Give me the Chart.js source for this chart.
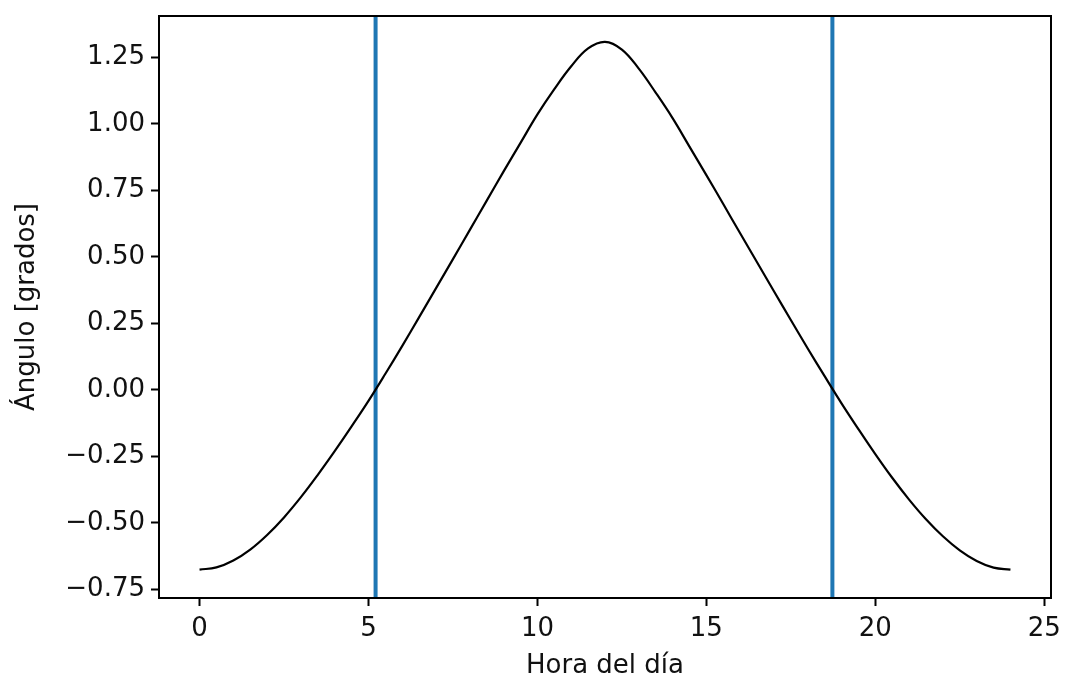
<!DOCTYPE html>
<html>
<head>
<meta charset="utf-8">
<script src="https://cdn.jsdelivr.net/npm/chart.js@4.4.1/dist/chart.umd.min.js"></script>
<style>
    body { margin: 0; background: #fff; }
    #wrap { width: 1065px; height: 682px; position: relative; }
</style>
</head>
<body>
<div id="wrap"><canvas id="chart"></canvas></div>
<script>
// hour of day (half-hour steps) and sun angle
const hours = [0, 0.5, 1, 1.5, 2, 2.5, 3, 3.5, 4, 4.5, 5, 5.5, 6, 6.5, 7, 7.5, 8, 8.5, 9, 9.5, 10, 10.5, 11, 11.5,
               12, 12.5, 13, 13.5, 14, 14.5, 15, 15.5, 16, 16.5, 17, 17.5, 18, 18.5, 19, 19.5, 20, 20.5, 21, 21.5,
               22, 22.5, 23, 23.5, 24];
const angle = [-0.675, -0.667, -0.641, -0.600, -0.545, -0.479, -0.403, -0.319, -0.230, -0.137, -0.041, 0.061,
               0.166, 0.274, 0.383, 0.492, 0.602, 0.712, 0.822, 0.929, 1.036, 1.131, 1.217, 1.284,
               1.309, 1.280, 1.208, 1.118, 1.022, 0.915, 0.808, 0.699, 0.589, 0.480, 0.371, 0.263,
               0.156, 0.052, -0.050, -0.147, -0.241, -0.330, -0.412, -0.486, -0.550, -0.603, -0.643, -0.668, -0.675];
// sunrise / sunset markers
const sunHours = [5.21, 18.73];

const xTicks = [0, 5, 10, 15, 20, 25];
const yTicks = [-0.75, -0.5, -0.25, 0, 0.25, 0.5, 0.75, 1.0, 1.25];
const xLimits = [-1.2, 25.2];
const yLimits = [-0.782, 1.406];

const FONT = { family: 'DejaVu Sans', size: 26 };

const curve = {
    label: 'ángulo',
    data: hours.map((h, i) => ({ x: h, y: angle[i] })),
    borderColor: '#000',
    borderWidth: 2.2,
    pointRadius: 0,
    tension: 0.4,
    order: 0,
};

const markers = sunHours.map(h => ({
    label: 'h' + h,
    data: [{ x: h, y: yLimits[0] }, { x: h, y: yLimits[1] }],
    borderColor: '#1f77b4',
    borderWidth: 4,
    pointRadius: 0,
    order: 1,
}));

// box around the plot area, like matplotlib spines
const frame = {
    id: 'frame',
    afterDatasetsDraw(chart) {
        const { ctx, chartArea: a } = chart;
        ctx.save();
        ctx.strokeStyle = '#000';
        ctx.lineWidth = 2;
        ctx.strokeRect(a.left, a.top, a.right - a.left, a.bottom - a.top);
        ctx.restore();
    }
};

const fmtMinus = v => (v < 0 ? '\u2212' : '') + Math.abs(v).toFixed(2);

new Chart(document.getElementById('chart'), {
    type: 'line',
    data: { datasets: [curve, ...markers] },
    options: {
        responsive: true,
        maintainAspectRatio: false,
        animation: false,
        layout: { padding: { top: 16, right: 14, left: 0, bottom: 0 } },
        plugins: { legend: { display: false }, tooltip: { enabled: false } },
        scales: {
            x: {
                type: 'linear',
                min: xLimits[0],
                max: xLimits[1],
                afterBuildTicks: s => { s.ticks = xTicks.map(v => ({ value: v })); },
                afterFit: s => { s.height = 84; s.paddingLeft = 0; s.paddingRight = 0; },
                border: { display: false },
                grid: { drawOnChartArea: false, tickLength: 8, tickWidth: 2, tickColor: '#000' },
                ticks: { font: FONT, color: '#111', padding: 8, maxRotation: 0, callback: v => String(v) },
                title: { display: true, text: 'Hora del día', font: FONT, color: '#111', padding: { top: 0, bottom: 0 } },
            },
            y: {
                type: 'linear',
                min: yLimits[0],
                max: yLimits[1],
                afterBuildTicks: s => { s.ticks = yTicks.map(v => ({ value: v })); },
                afterFit: s => { s.width = 159; s.paddingTop = 0; s.paddingBottom = 0; },
                border: { display: false },
                grid: { drawOnChartArea: false, tickLength: 8, tickWidth: 2, tickColor: '#000' },
                ticks: { font: FONT, color: '#111', padding: 6, callback: v => fmtMinus(v) },
                title: { display: true, text: 'Ángulo [grados]', font: FONT, color: '#111', padding: { top: 12, bottom: 0 } },
            },
        },
    },
    plugins: [frame],
});
</script>
</body>
</html>
